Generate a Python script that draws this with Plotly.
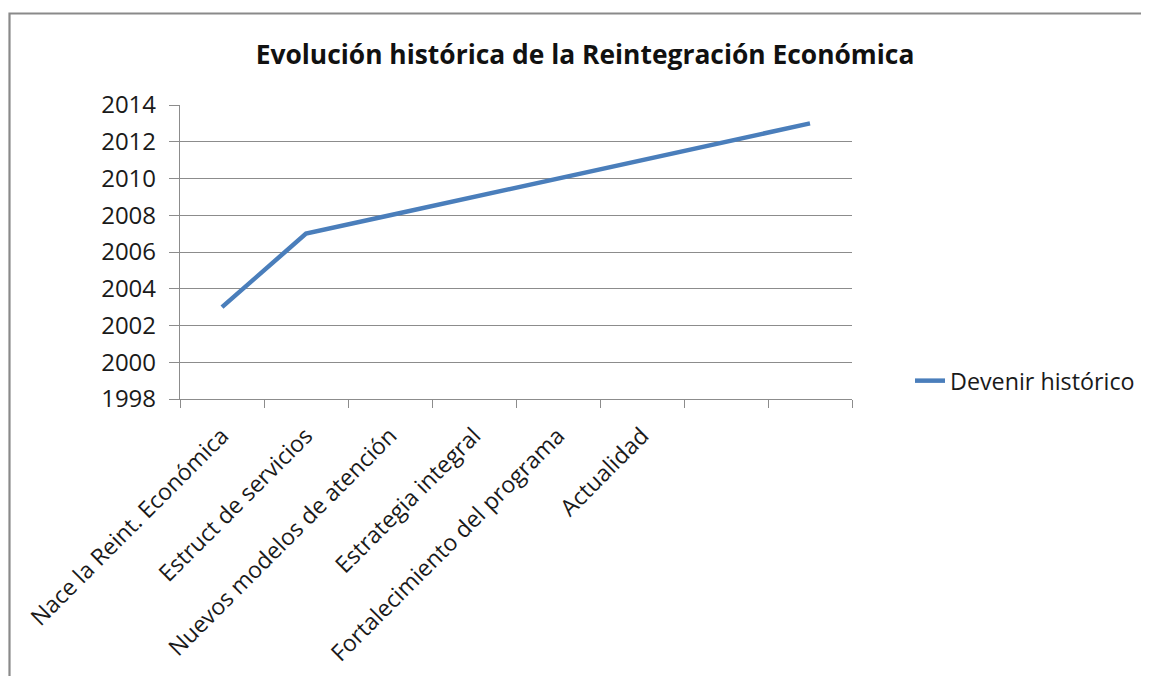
import plotly.graph_objects as go

categories = ["Nace la Reint. Económica", "Estruct de servicios", "Nuevos modelos de atención",
              "Estrategia integral", "Fortalecimiento del programa", "Actualidad", " ", "  "]
years = [2003, 2007, 2008, 2009, 2010, 2011, 2012, 2013]
series_name = "Devenir histórico"
title_text = "Evolución histórica de la Reintegración Económica"

FONT = "Open Sans"
OFF = 8  # default page body margin
W, H = 1149 - OFF, 676 - OFF
# plot area edges in reference page pixels
L, R, T, B = 180, 852, 105, 399

fig = go.Figure()
fig.add_trace(go.Scatter(x=categories, y=years, mode="lines", name=series_name,
                         line=dict(color="#4a7ebb", width=4.5)))

def px(x):
    return (x - L) / (R - L)

def py(y):
    return (B - y) / (B - T)

fig.update_layout(
    width=W, height=H,
    margin=dict(l=L - OFF, r=W - (R - OFF), t=T - OFF, b=H - (B - OFF), autoexpand=False),
    paper_bgcolor="white", plot_bgcolor="white",
    font=dict(family=FONT, color="#1a1a1a", size=23),
    title=dict(text="<b>" + title_text + "</b>", x=(585 - OFF) / W, xanchor="center",
               y=1 - (55 - OFF) / H, yanchor="middle", font=dict(size=26.4, family=FONT, color="#111")),
    showlegend=True,
    legend=dict(x=px(910), xanchor="left", y=py(381), yanchor="middle",
                font=dict(size=23.3, family=FONT), bgcolor="rgba(0,0,0,0)"),
    xaxis=dict(type="category", tickson="boundaries", ticks="outside", ticklen=8,
               tickcolor="#8c8c8c", tickwidth=1.3, showline=True, linecolor="#8c8c8c", linewidth=1.3,
               showgrid=False, tickangle=-45, tickfont=dict(size=23), range=[-0.5, 7.5],
               ticklabelstandoff=13),
    yaxis=dict(range=[1998, 2014], dtick=2, tick0=1998, ticks="outside", ticklen=10,
               tickcolor="#8c8c8c", tickwidth=1.3, showline=True, linecolor="#8c8c8c", linewidth=1.3,
               showgrid=True, gridcolor="#8c8c8c", gridwidth=1.3, zeroline=False,
               tickfont=dict(size=24), tickformat="d", ticklabelstandoff=8),
    shapes=[dict(type="rect", xref="paper", yref="paper",
                 x0=px(9.5), x1=px(1200), y0=py(720), y1=py(13.5),
                 line=dict(color="#8a8a8a", width=2.2), fillcolor="rgba(0,0,0,0)", layer="below")],
)

fig.write_html("out.html")
